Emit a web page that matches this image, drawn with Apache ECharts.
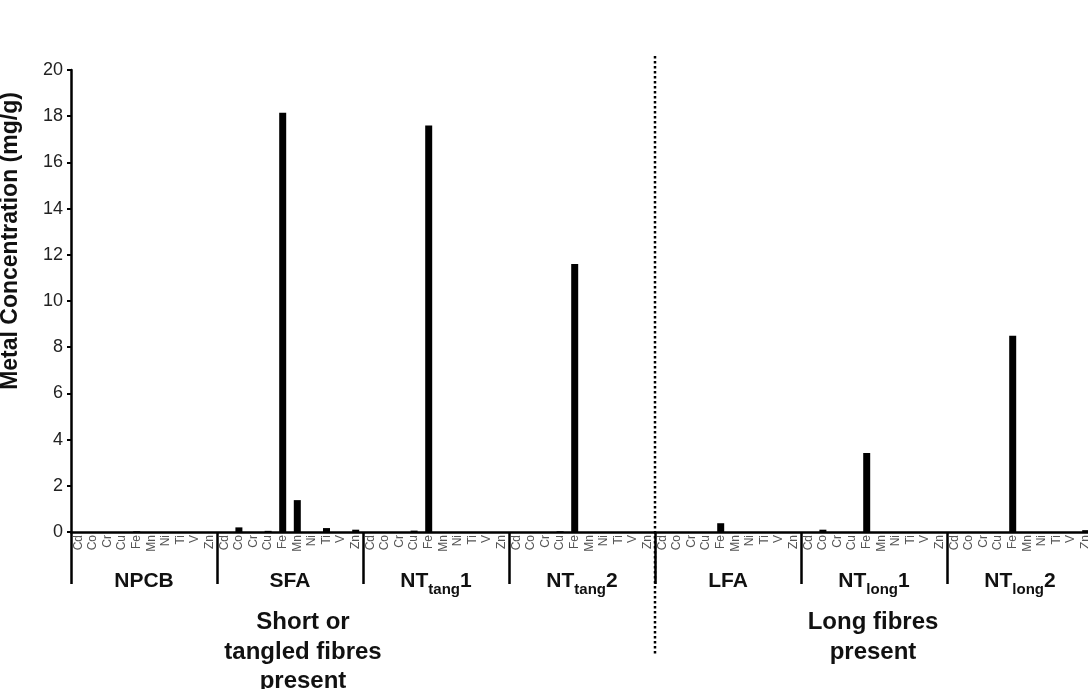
<!DOCTYPE html>
<html>
<head>
<meta charset="utf-8">
<script src="https://cdn.jsdelivr.net/npm/echarts@6/dist/echarts.min.js"></script>
<style>html,body{margin:0;padding:0;background:#fff;}#c{width:1088px;height:689px;}</style>
</head>
<body>
<div id="c"></div>
<script>
const metals = ['Cd','Co','Cr','Cu','Fe','Mn','Ni','Ti','V','Zn'];
const groups = ['NPCB','SFA','NT_tang1','NT_tang2','LFA','NT_long1','NT_long2'];
const groupMain = ['NPCB','SFA','NT','NT','LFA','NT','NT'];
const groupSub = ['','','tang','tang','','long','long'];
const groupSuffix = ['','','1','2','','1','2'];
const yTicks = [0,2,4,6,8,10,12,14,16,18,20];
const vNPCB    = [0, 0, 0, 0, 0.03, 0, 0, 0, 0, 0];
const vSFA     = [0, 0.2, 0, 0.05, 18.15, 1.38, 0, 0.17, 0, 0.1];
const vNTtang1 = [0, 0, 0, 0.06, 17.6, 0, 0, 0, 0, 0];
const vNTtang2 = [0, 0, 0, 0.03, 11.6, 0, 0, 0, 0, 0];
const vLFA     = [0, 0, 0, 0, 0.38, 0, 0, 0, 0, 0];
const vNTlong1 = [0, 0.1, 0, 0, 3.42, 0, 0, 0, 0, 0];
const vNTlong2 = [0, 0, 0, 0, 8.5, 0, 0, 0, 0, 0.08];
const allValues = [vNPCB, vSFA, vNTtang1, vNTtang2, vLFA, vNTlong1, vNTlong2];

const cats = [];
const vals = [];
allValues.forEach((arr, gi) => {
  metals.forEach((m, mi) => { cats.push(gi + '_' + m); vals.push(arr[mi]); });
});

const FONT = '"Liberation Sans", Arial, sans-serif';
const chart = echarts.init(document.getElementById('c'), null, {renderer: 'canvas'});
const bottomText = {fontFamily: FONT, fontSize: 24, fontWeight: 'bold', color: '#111', lineHeight: 29.5};
const option = {
  animation: false,
  backgroundColor: '#fff',
  grid: {left: 71, width: 1022, top: 70, bottom: 157, containLabel: false, outerBoundsMode: 'none'},
  title: [
    {text: 'Short or\ntangled fibres\npresent', left: 303, top: 608, padding: 0, textAlign: 'center', textStyle: bottomText},
    {text: 'Long fibres\npresent', left: 873, top: 608, padding: 0, textAlign: 'center', textStyle: bottomText}
  ],
  xAxis: [
    {
      type: 'category', data: cats, position: 'bottom',
      axisLine: {show: true, lineStyle: {color: '#000', width: 2.5}},
      axisTick: {show: false},
      axisLabel: {interval: 0, rotate: 90, margin: 3, fontFamily: FONT, fontSize: 12, color: '#555',
        formatter: v => v.split('_')[1]}
    },
    {
      type: 'category', data: groups, position: 'bottom',
      axisLine: {show: false},
      axisTick: {show: true, length: 52, interval: 0, lineStyle: {color: '#000', width: 2.5}},
      axisLabel: {interval: 0, margin: 39, fontFamily: FONT,
        formatter: (v, i) => {
          let s = '{b|' + groupMain[i] + '}';
          if (groupSub[i]) s += '{s|' + groupSub[i] + '}';
          if (groupSuffix[i]) s += '{b|' + groupSuffix[i] + '}';
          return s;
        },
        rich: {
          b: {fontFamily: FONT, fontSize: 21, fontWeight: 'bold', color: '#111', verticalAlign: 'top', lineHeight: 24},
          s: {fontFamily: FONT, fontSize: 15, fontWeight: 'bold', color: '#111', verticalAlign: 'top', padding: [11, 0, 0, 0], lineHeight: 24}
        }}
    }
  ],
  yAxis: {
    type: 'value', min: yTicks[0], max: yTicks[yTicks.length - 1], interval: 2,
    name: 'Metal Concentration (mg/g)', nameLocation: 'middle', nameGap: 49,
    nameTextStyle: {fontFamily: FONT, fontSize: 23, fontWeight: 'bold', color: '#111', padding: [0, 0, 0, 120]},
    axisLine: {show: true, lineStyle: {color: '#000', width: 2.5}},
    axisTick: {show: true, length: 4, lineStyle: {color: '#000', width: 2}},
    axisLabel: {fontFamily: FONT, fontSize: 18, color: '#222', margin: 8},
    splitLine: {show: false}
  },
  series: [{
    type: 'bar', xAxisIndex: 0, data: vals, barWidth: 7,
    itemStyle: {color: '#000'}
  }]
};
chart.setOption(option);

// dotted separator between the short/tangled and long fibre groups
const xa = chart.convertToPixel({xAxisIndex: 0}, cats[39]);
const xb = chart.convertToPixel({xAxisIndex: 0}, cats[40]);
const xs = (xa + xb) / 2;
chart.setOption({
  graphic: [{
    type: 'line', shape: {x1: xs, y1: 56, x2: xs, y2: 655},
    style: {stroke: '#000', lineWidth: 2.5, lineDash: [2.5, 2.5]}, z: 100
  }]
});
</script>
</body>
</html>
